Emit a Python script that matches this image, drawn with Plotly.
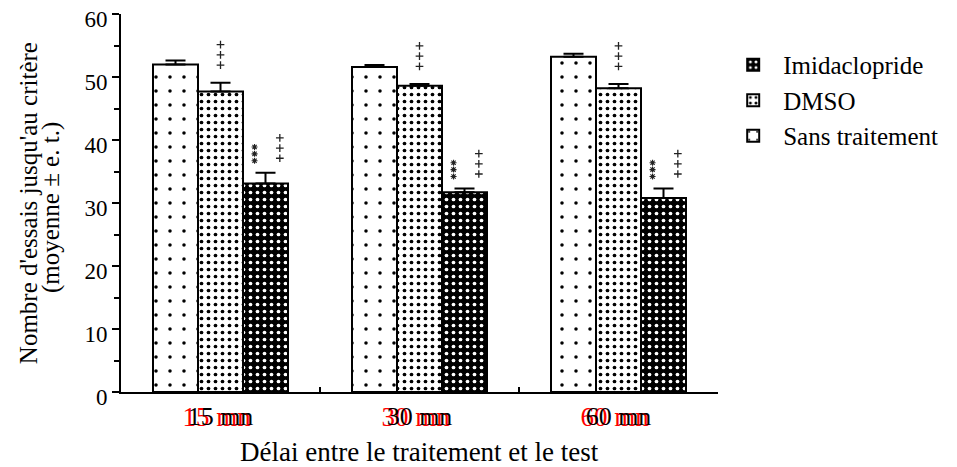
import plotly.graph_objects as go

categories = ["15 mn", "30 mn", "60 mn"]
series_names = ["Sans traitement", "DMSO", "Imidaclopride"]
sans = [52.0, 51.6, 53.2]
sans_err = [0.6, 0.3, 0.5]
dmso = [47.7, 48.6, 48.2]
dmso_err = [1.4, 0.3, 0.7]
imid = [33.1, 31.7, 30.8]
imid_err = [1.7, 0.6, 1.5]
y_ticks = [0, 10, 20, 30, 40, 50, 60]
y_title_lines = ["Nombre d'essais jusqu'au critère", "(moyenne ± e. t.)"]
x_title = "Délai entre le traitement et le test"

FONT = "Liberation Serif, Times New Roman, serif"
idx = list(range(len(categories)))

patterns = {
    "Sans traitement": dict(shape=".", fgcolor="black", bgcolor="white", size=14, solidity=0.05, fillmode="replace"),
    "DMSO": dict(shape=".", fgcolor="black", bgcolor="white", size=7, solidity=0.22, fillmode="replace"),
    "Imidaclopride": dict(shape=".", fgcolor="white", bgcolor="black", size=7, solidity=0.22, fillmode="replace"),
}
values = {"Sans traitement": (sans, sans_err), "DMSO": (dmso, dmso_err), "Imidaclopride": (imid, imid_err)}

fig = go.Figure()
for name in series_names:
    v, e = values[name]
    fig.add_trace(go.Bar(
        x=idx, y=v, name=name, legendgroup=name,
        marker=dict(color="white" if name != "Imidaclopride" else "black",
                    line=dict(color="black", width=2), pattern=patterns[name]),
        error_y=dict(type="data", array=e, arrayminus=[0] * len(e), symmetric=False,
                     color="black", thickness=2, width=10),
    ))

# significance markers
bw = 135 / 199 / 3  # bar width in category units
def stack(xs, ys0, step, n=3):
    X, Y = [], []
    for x0, y0 in zip(xs, ys0):
        for k in range(n):
            X.append(x0)
            Y.append(y0 + k * step)
    return X, Y

dx, dy = stack([i + 0.0 for i in idx], [v + e + 2.8 for v, e in zip(dmso, dmso_err)], 1.62)
ix, iy = stack([i + bw + 0.072 for i in idx], [v + e + 2.3 for v, e in zip(imid, imid_err)], 1.62)
ax_, ay_ = stack([i + bw - 0.055 for i in idx], [v + e + 1.9 for v, e in zip(imid, imid_err)], 1.1)
fig.add_trace(go.Scatter(x=dx + ix, y=dy + iy, mode="markers", showlegend=False, hoverinfo="skip",
                         marker=dict(symbol="cross-thin-open", size=5.5, color="#222",
                                     line=dict(color="#222", width=1.3))))
fig.add_trace(go.Scatter(x=ax_, y=ay_, mode="markers", showlegend=False, hoverinfo="skip",
                         marker=dict(symbol="asterisk-open", size=5, color="#222",
                                     line=dict(color="#222", width=1.1))))

# helper traces for overlay axes (red and black tick labels)
for ax in ("x2", "x3"):
    fig.add_trace(go.Scatter(x=idx, y=[0] * len(idx), xaxis=ax, mode="markers",
                             marker=dict(opacity=0), showlegend=False, hoverinfo="skip"))

PLOT_H = 378
fig.update_layout(
    width=949, height=459, autosize=False,
    margin=dict(l=113, r=239, t=6, b=75, autoexpand=False),
    plot_bgcolor="white", paper_bgcolor="white",
    font=dict(family=FONT, color="black"),
    barmode="group", bargap=1 - 135 / 199, bargroupgap=0,
    showlegend=True,
    legend=dict(x=1.0087, y=0.926, xanchor="left", yanchor="top", traceorder="reversed",
                font=dict(family=FONT, size=25, color="black"), tracegroupgap=8,
                itemwidth=50, bgcolor="rgba(0,0,0,0)"),
    xaxis=dict(range=[-0.5, 2.5], tickmode="array", tickvals=idx, showticklabels=False,
               showline=True, linecolor="black", linewidth=2, ticks="", showgrid=False, zeroline=False,
               automargin=False,
               minor=dict(tickvals=[0.5, 1.5], ticks="inside", ticklen=5, tickwidth=1.5, tickcolor="black")),
    xaxis2=dict(range=[-0.5, 2.5], overlaying="x", anchor="free", position=0, side="bottom",
                tickmode="array", tickvals=idx, ticktext=categories, showline=False, ticks="",
                showgrid=False, zeroline=False, automargin=False, ticklabelshift=-4, ticklabelstandoff=6,
                tickfont=dict(family=FONT, size=27, color="red")),
    xaxis3=dict(range=[-0.5, 2.5], overlaying="x", anchor="free", position=0, side="bottom",
                tickmode="array", tickvals=idx, ticktext=categories, showline=False, ticks="",
                showgrid=False, zeroline=False, automargin=False, ticklabelstandoff=6,
                tickfont=dict(family=FONT, size=26, color="black")),
    yaxis=dict(range=[0, 60], tickmode="array", tickvals=y_ticks, showline=True, linecolor="black",
               linewidth=2, ticks="outside", ticklen=7, tickwidth=1.5, tickcolor="black",
               showgrid=False, zeroline=False, automargin=False, ticklabelshift=5,
               ticklabeloverflow="allow", tickfont=dict(family=FONT, size=23),
               minor=dict(dtick=5, ticks="outside", ticklen=5, tickwidth=1.5, tickcolor="black")),
    annotations=[
        dict(text=y_title_lines[0], xref="paper", yref="paper", x=-0.1555, y=0.5,
             xanchor="center", yanchor="middle", textangle=-90, showarrow=False,
             font=dict(family=FONT, size=25)),
        dict(text=y_title_lines[1], xref="paper", yref="paper", x=-0.117, y=0.487,
             xanchor="center", yanchor="middle", textangle=-90, showarrow=False,
             font=dict(family=FONT, size=25)),
        dict(text=x_title, xref="paper", yref="paper", x=0.5, y=-60 / PLOT_H,
             xanchor="center", yanchor="middle", showarrow=False,
             font=dict(family=FONT, size=27)),
    ],
)

fig.write_html("out.html")
